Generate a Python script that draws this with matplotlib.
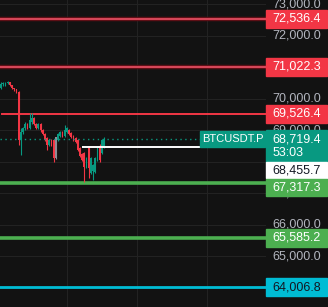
import matplotlib.pyplot as plt
from matplotlib.patches import Rectangle

plt.rcParams["font.family"] = ["Liberation Sans", "DejaVu Sans"]

# OHLC of the visible candles
opens = [70342, 70469, 70440, 70500, 70530, 70430, 70340, 70300, 70210, 68690,
         68940, 69070, 69200, 69070, 69260, 69390, 69200, 69070, 69200, 69000,
         68880, 68750, 68530, 68690, 68690, 68120, 68690, 68810, 68940, 68810,
         68940, 69000, 68910, 68810, 68750, 68690, 68430, 68240, 68270, 67830,
         68430, 67640, 67700, 67670, 68050, 68500, 68270, 68460]
highs = [70532, 70540, 70530, 70560, 70550, 70450, 70360, 70320, 70240, 69070,
         69120, 69260, 69230, 69550, 69560, 69420, 69230, 69240, 69230, 69030,
         68900, 68780, 68720, 68720, 68720, 68800, 68910, 68970, 68970, 69160,
         69100, 69030, 68940, 68840, 68780, 68720, 68460, 68270, 68300, 68150,
         68460, 68150, 67920, 68150, 68490, 68560, 68720, 68800]
lows = [70310, 70405, 70420, 70470, 70400, 70310, 70250, 70180, 68530, 68210,
        68880, 69000, 69030, 69040, 69200, 69160, 69030, 69040, 68960, 68840,
        68650, 68370, 68500, 68500, 67990, 68080, 68650, 68780, 68780, 68780,
        68900, 68850, 68750, 68650, 68590, 68340, 68150, 68020, 67350, 67800,
        67480, 67600, 67420, 67640, 68020, 68000, 68240, 68430]
closes = [70469, 70501, 70500, 70530, 70430, 70340, 70300, 70210, 68690, 68940,
          69070, 69200, 69070, 69320, 69390, 69200, 69070, 69200, 69000, 68880,
          68690, 68530, 68690, 68530, 68120, 68780, 68880, 68940, 68810, 69000,
          69070, 68880, 68780, 68690, 68620, 68370, 68180, 68050, 67830, 68120,
          67800, 68120, 67890, 68120, 68460, 68050, 68690, 68719.4]
gray_candle = 25

last_price = 68719.4
countdown = "53:03"
white_level = 68455.7
white_start = 37
red_levels = [72536.4, 71022.3, 69526.4]
green_levels = [67317.3, 65585.2]
cyan_level = 64006.8
price_ticks = [64000, 65000, 66000, 67000, 68000, 69000, 70000, 71000, 72000, 73000]
symbol = "BTCUSDT.P"

BG = "#121212"
TEAL = "#089981"
RED = "#f23645"
GREEN = "#4caf50"
CYAN = "#00bcd4"

fig = plt.figure(figsize=(3.28, 3.07), dpi=100, facecolor=BG)
ax = fig.add_axes([0, 0, 266 / 328, 1])
ax.set_facecolor(BG)
ax.set_xlim(-0.5, 121)
ax.set_ylim(63387, 73140)
for s in ax.spines.values():
    s.set_visible(False)
ax.set_xticks([30, 62, 94])
ax.set_yticks(price_ticks)
ax.tick_params(length=0, labelleft=False, labelbottom=False)
ax.grid(True, color="#222222", lw=0.8)
ax.set_axisbelow(True)

# candles
for i, (o, h, l, c) in enumerate(zip(opens, highs, lows, closes)):
    col = TEAL if c >= o else RED
    if i == gray_candle:
        col = "#8a8d96"
    ax.vlines(i, l, h, color=col, lw=0.8, zorder=3)
    ax.bar(i, max(abs(c - o), 15), bottom=min(o, c), width=0.75, color=col, zorder=3)

# horizontal levels
for lv in red_levels[:2]:
    ax.axhline(lv, color="#5e0f16", lw=3.2, zorder=2)
    ax.axhline(lv, color="#d8485a", lw=1.4, zorder=2)
ax.axhline(red_levels[2], xmin=0.008, color=RED, lw=1.4, zorder=2)
for lv in green_levels:
    ax.axhline(lv, color=GREEN, lw=2.6, zorder=2)
ax.axhline(cyan_level, color=CYAN, lw=2, zorder=2)
ax.hlines(white_level, white_start, 94.5, color="white", lw=1.4, zorder=4)
ax.hlines(last_price, -0.5, 94.5, color=TEAL, lw=1, ls=(0, (1, 2.5)), zorder=4)

tr = ax.get_yaxis_transform()
px = (73140 - 63387) / 307  # price units per pixel

# symbol tag
ax.add_patch(Rectangle((0.752, last_price - 8 * px), 0.245, 16 * px, transform=tr,
                       color=TEAL, clip_on=False, zorder=5))
ax.text(0.874, last_price, symbol, transform=tr, color="white", fontsize=8,
        ha="center", va="center", zorder=6)

# price scale
x_right = 321 / 266
for t in price_ticks:
    ax.text(x_right, t, f"{t:,.1f}", transform=tr, color="#b2b5be", fontsize=9,
            ha="right", va="center", clip_on=False, zorder=1)


def tag(y_center, text, face, fg, h=18):
    ax.add_patch(Rectangle((1.0, y_center - h / 2 * px), 61 / 266, h * px, transform=tr,
                           color=face, clip_on=False, zorder=7))
    ax.text(x_right, y_center, text, transform=tr, color=fg, fontsize=9,
            ha="right", va="center", clip_on=False, zorder=8)


for lv in red_levels:
    tag(lv, f"{lv:,.1f}", RED, "white")
tag(green_levels[1], f"{green_levels[1]:,.1f}", GREEN, "white")
tag(cyan_level, f"{cyan_level:,.1f}", CYAN, "#131722")

# stacked tags around the last price
ax.add_patch(Rectangle((1.0, 73140 - 162 * px), 61 / 266, 32 * px, transform=tr,
                       color=TEAL, clip_on=False, zorder=7))
ax.text(x_right, last_price, f"{last_price:,.1f}", transform=tr, color="white",
        fontsize=9, ha="right", va="center", zorder=8)
ax.text(273 / 266, 73140 - 153 * px, countdown, transform=tr, color="white",
        fontsize=9, ha="left", va="center", zorder=8)
tag(73140 - 170 * px, f"{white_level:,.1f}", "white", "#131722", h=16)
tag(73140 - 187 * px, f"{green_levels[0]:,.1f}", GREEN, "white", h=17)

fig.savefig("out.png", dpi=100, facecolor=BG)
